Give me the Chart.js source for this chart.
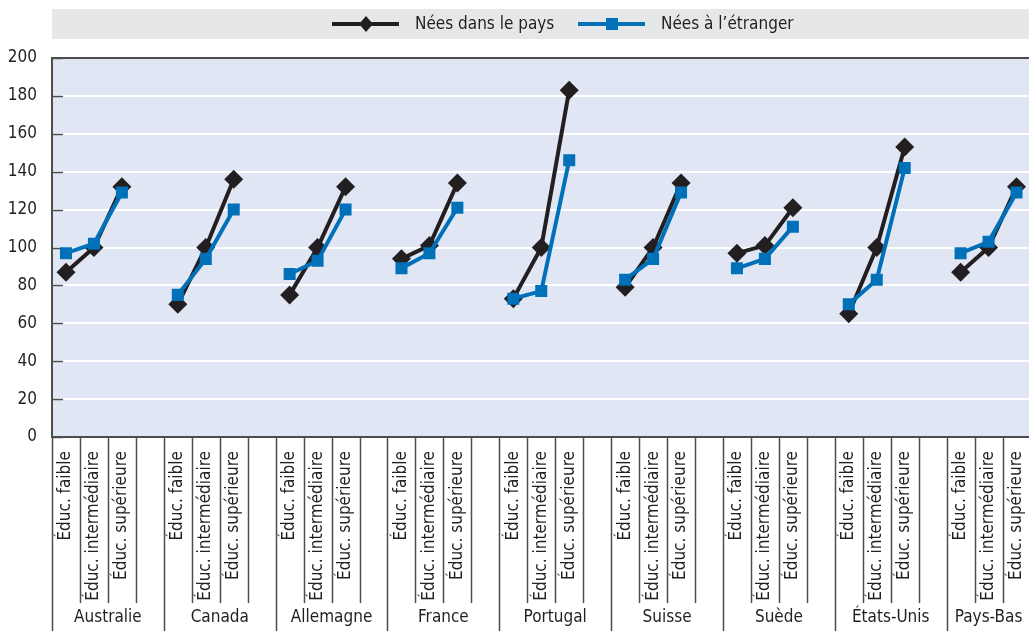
<!DOCTYPE html>
<html>
<head>
<meta charset="utf-8">
<title>Salaires selon le niveau d'éducation</title>
<script src="https://cdn.jsdelivr.net/npm/chart.js"></script>
<style>
    body { margin: 0; padding: 0; overflow: hidden; background: #fff; }
    #chart { display: block; }
</style>
</head>
<body>
    <canvas id="chart" width="1040" height="631"></canvas>

<script>

    var countries = ['Australie', 'Canada', 'Allemagne', 'France', 'Portugal', 'Suisse', 'Suède', 'États-Unis', 'Pays-Bas'];
    var levels = ['Éduc. faible', 'Éduc. intermédiaire', 'Éduc. supérieure'];

    // one row per country: faible, intermédiaire, supérieure
    var nativeBorn = [
        [87, 100, 132],
        [70, 100, 136],
        [75, 100, 132],
        [94, 101, 134],
        [73, 100, 183],
        [79, 100, 134],
        [97, 101, 121],
        [65, 100, 153],
        [87, 100, 132]
    ];
    var foreignBorn = [
        [97, 102, 129],
        [75, 94, 120],
        [86, 93, 120],
        [89, 97, 121],
        [73, 77, 146],
        [83, 94, 129],
        [89, 94, 111],
        [70, 83, 142],
        [97, 103, 129]
    ];

    var yTicks = [0, 20, 40, 60, 80, 100, 120, 140, 160, 180, 200];

    var FONT = '"Liberation Sans Narrow", "DejaVu Sans Condensed", "Liberation Sans", sans-serif';
    var INK = '#231f20';
    var AXIS = '#4d4d4d';
    var BLUE = '#0070b8';

    // 3 levels + an empty slot between countries (none after the last one)
    var labels = [];
    var nativeSeries = [];
    var foreignSeries = [];
    countries.forEach(function(c, i) {
        for (var k = 0; k < levels.length; k++) {
            labels.push(levels[k]);
            nativeSeries.push(nativeBorn[i][k]);
            foreignSeries.push(foreignBorn[i][k]);
        }
        if (i < countries.length - 1) {
            labels.push('');
            nativeSeries.push(null);
            foreignSeries.push(null);
        }
    });

    var slotsPerCountry = 4;

    var decor = {
        id: 'decor',
        beforeDraw: function(chart) {
            var ctx = chart.ctx, a = chart.chartArea;
            ctx.save();
            ctx.fillStyle = '#e0e6f4';
            ctx.fillRect(a.left, a.top, a.right - a.left, a.bottom - a.top);
            ctx.fillStyle = '#e6e7e8';
            ctx.fillRect(a.left, 9, chart.width - a.left, 30);
            ctx.restore();
        },
        beforeDatasetsDraw: function(chart) {
            var ctx = chart.ctx, a = chart.chartArea;
            var x = chart.scales.x, y = chart.scales.y;
            ctx.save();
            ctx.strokeStyle = AXIS;

            // short inner ticks on the value axis
            ctx.lineWidth = 1.5;
            yTicks.forEach(function(v) {
                var py = Math.round(y.getPixelForValue(v)) + 0.5;
                ctx.beginPath();
                ctx.moveTo(a.left, py);
                ctx.lineTo(a.left + 11, py);
                ctx.stroke();
            });

            // frame: top, left, bottom
            ctx.lineWidth = 2;
            ctx.beginPath();
            ctx.moveTo(chart.width, a.top);
            ctx.lineTo(a.left, a.top);
            ctx.lineTo(a.left, a.bottom);
            ctx.lineTo(chart.width, a.bottom);
            ctx.stroke();

            // slot separators below the axis, longer ones between countries
            var slot = (a.right - a.left) / labels.length;
            ctx.lineWidth = 1.5;
            for (var i = 0; i <= labels.length; i++) {
                var px = Math.round(x.getPixelForValue(i) - slot / 2) + 0.5;
                var isCountry = (i % slotsPerCountry === 0) || i === labels.length;
                ctx.beginPath();
                ctx.moveTo(px, a.bottom);
                ctx.lineTo(px, isCountry ? chart.height : a.bottom + 166);
                ctx.stroke();
            }

            // country names
            ctx.fillStyle = INK;
            ctx.font = '17px ' + FONT;
            ctx.textAlign = 'center';
            ctx.textBaseline = 'middle';
            countries.forEach(function(c, i) {
                var first = i * slotsPerCountry;
                var last = Math.min(first + slotsPerCountry, labels.length);
                var x0 = x.getPixelForValue(first) - slot / 2;
                var x1 = x.getPixelForValue(last) - slot / 2;
                ctx.fillText(c, (x0 + x1) / 2, a.bottom + 181);
            });
            ctx.restore();
        },
        afterDraw: function(chart) {
            // legend: line + marker, then the series name
            var ctx = chart.ctx;
            var ds = chart.data.datasets;
            var items = [
                { x: 332, set: ds[0], diamond: true },
                { x: 578, set: ds[1], diamond: false }
            ];
            ctx.save();
            items.forEach(function(it) {
                var cy = 24, cx = it.x + 34;
                ctx.strokeStyle = it.set.borderColor;
                ctx.fillStyle = it.set.borderColor;
                ctx.lineWidth = 4;
                ctx.beginPath();
                ctx.moveTo(it.x, cy);
                ctx.lineTo(it.x + 67, cy);
                ctx.stroke();
                ctx.beginPath();
                if (it.diamond) {
                    ctx.moveTo(cx, cy - 8);
                    ctx.lineTo(cx + 7, cy);
                    ctx.lineTo(cx, cy + 8);
                    ctx.lineTo(cx - 7, cy);
                    ctx.closePath();
                } else {
                    ctx.rect(cx - 6, cy - 6, 12, 12);
                }
                ctx.fill();
                ctx.fillStyle = INK;
                ctx.font = '17px ' + FONT;
                ctx.textAlign = 'left';
                ctx.textBaseline = 'middle';
                ctx.fillText(it.set.label, it.x + 83, cy + 1);
            });
            ctx.restore();
        }
    };

    var config = {
        type: 'line',
        data: {
            labels: labels,
            datasets: [
                {
                    label: 'Nées dans le pays',
                    data: nativeSeries,
                    borderColor: INK,
                    backgroundColor: INK,
                    borderWidth: 4,
                    pointStyle: 'rectRot',
                    pointRadius: 9.5,
                    pointBorderWidth: 0,
                    order: 1
                },
                {
                    label: 'Nées à l\u2019étranger',
                    data: foreignSeries,
                    borderColor: BLUE,
                    backgroundColor: BLUE,
                    borderWidth: 4,
                    pointStyle: 'rect',
                    pointRadius: 8.5,
                    pointBorderWidth: 0,
                    order: 0
                }
            ]
        },
        options: {
            responsive: false,
            animation: false,
            spanGaps: false,
            layout: { padding: { top: 58, right: 4, left: 0, bottom: 0 } },
            plugins: {
                legend: { display: false },
                tooltip: { enabled: false }
            },
            scales: {
                x: {
                    offset: true,
                    grid: { display: false, drawTicks: false },
                    border: { display: false },
                    ticks: {
                        autoSkip: false,
                        minRotation: 90,
                        maxRotation: 90,
                        padding: 14,
                        color: INK,
                        font: { family: FONT, size: 17 }
                    },
                    afterFit: function(scale) {
                        scale.height = 194;
                        scale.paddingLeft = 0;
                        scale.paddingRight = 0;
                    }
                },
                y: {
                    min: 0,
                    max: 200,
                    afterBuildTicks: function(scale) {
                        scale.ticks = yTicks.map(function(v) { return { value: v }; });
                    },
                    grid: {
                        color: function(c) {
                            return (c.tick.value === 0 || c.tick.value === 200) ? 'rgba(0,0,0,0)' : '#ffffff';
                        },
                        lineWidth: 2,
                        drawTicks: false
                    },
                    border: { display: false },
                    ticks: {
                        padding: 15,
                        color: INK,
                        font: { family: FONT, size: 17 }
                    },
                    afterFit: function(scale) { scale.width = 52; }
                }
            }
        },
        plugins: [decor]
    };

    new Chart(document.getElementById('chart'), config);

</script>
</body>
</html>
